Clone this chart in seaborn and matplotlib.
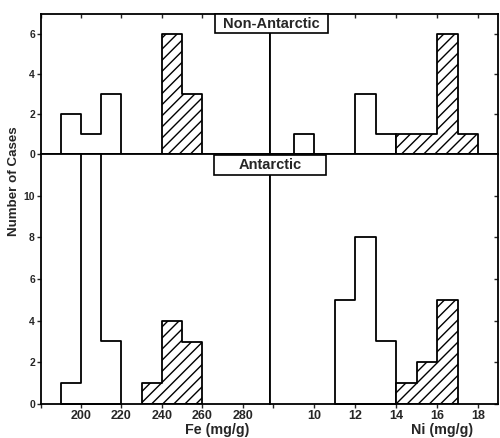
import matplotlib
matplotlib.use('Agg')
import matplotlib.pyplot as plt
import seaborn as sns
from matplotlib.patches import Rectangle

# ---------------- data (bin edges and counts) ----------------
# Non-Antarctic, Fe
fe_top_open_edges = [190, 200, 210, 220]
fe_top_open_counts = [2, 1, 3]
fe_top_hatch_edges = [240, 250, 260]
fe_top_hatch_counts = [6, 3]
# Antarctic, Fe
fe_bot_open_edges = [190, 200, 210, 220]
fe_bot_open_counts = [1, 13, 3]
fe_bot_hatch_edges = [230, 240, 250, 260]
fe_bot_hatch_counts = [1, 4, 3]
# Non-Antarctic, Ni
ni_top_open1_edges = [9, 10]
ni_top_open1_counts = [1]
ni_top_open2_edges = [12, 13, 14]
ni_top_open2_counts = [3, 1]
ni_top_hatch_edges = [14, 15, 16, 17, 18]
ni_top_hatch_counts = [1, 1, 6, 1]
# Antarctic, Ni
ni_bot_open_edges = [11, 12, 13, 14]
ni_bot_open_counts = [5, 8, 3]
ni_bot_hatch_edges = [14, 15, 16, 17]
ni_bot_hatch_counts = [1, 2, 5]

fe_ticks = [180, 200, 220, 240, 260, 280]
fe_ticklabels = ['', '200', '220', '240', '260', '280']
ni_ticks = [8, 10, 12, 14, 16, 18]
ni_ticklabels = ['', '10', '12', '14', '16', '18']
top_yticks = [0, 2, 4, 6]
bot_yticks = [0, 2, 4, 6, 8, 10]

sns.set_style('white')
plt.rcParams['font.family'] = ['Liberation Sans', 'DejaVu Sans']
plt.rcParams['font.weight'] = 'bold'
plt.rcParams['hatch.linewidth'] = 1.0
plt.rcParams['hatch.color'] = 'black'

W, H = 500, 438
fig = plt.figure(figsize=(W / 100, H / 100), dpi=100)
fig.patch.set_facecolor('white')

def fx(px):
    return px / W

def fy(py):
    return 1 - py / H

xl, xm, xr = 40.5, 270, 498
yt, ym, yb = 14, 154, 404

ax_tl = fig.add_axes([fx(xl), fy(ym), fx(xm - xl), (ym - yt) / H])
ax_tr = fig.add_axes([fx(xm), fy(ym), fx(xr - xm), (ym - yt) / H])
ax_bl = fig.add_axes([fx(xl), fy(yb), fx(xm - xl), (yb - ym) / H])
ax_br = fig.add_axes([fx(xm), fy(yb), fx(xr - xm), (yb - ym) / H])

def draw(ax, edges, counts, hatched):
    centers = [(a + b) / 2 for a, b in zip(edges[:-1], edges[1:])]
    sns.histplot(x=centers, weights=counts, bins=edges, ax=ax, element='step',
                 color='white', edgecolor='black', linewidth=1.3,
                 alpha=1, hatch='///' if hatched else None)

draw(ax_tl, fe_top_open_edges, fe_top_open_counts, False)
draw(ax_tl, fe_top_hatch_edges, fe_top_hatch_counts, True)
draw(ax_bl, fe_bot_open_edges, fe_bot_open_counts, False)
draw(ax_bl, fe_bot_hatch_edges, fe_bot_hatch_counts, True)
draw(ax_tr, ni_top_open1_edges, ni_top_open1_counts, False)
draw(ax_tr, ni_top_open2_edges, ni_top_open2_counts, False)
draw(ax_tr, ni_top_hatch_edges, ni_top_hatch_counts, True)
draw(ax_br, ni_bot_open_edges, ni_bot_open_counts, False)
draw(ax_br, ni_bot_hatch_edges, ni_bot_hatch_counts, True)

fe_lim = (180, 180 + (xm - xl) / 2.025)
ni_lim = (8 - 3 / 20.5, 8 - 3 / 20.5 + (xr - xm) / 20.5)

for ax in (ax_tl, ax_bl):
    ax.set_xlim(*fe_lim)
    ax.set_xticks(fe_ticks)
for ax in (ax_tr, ax_br):
    ax.set_xlim(*ni_lim)
    ax.set_xticks(ni_ticks)
for ax in (ax_tl, ax_tr):
    ax.set_ylim(0, 7)
    ax.set_yticks(top_yticks)
for ax in (ax_bl, ax_br):
    ax.set_ylim(0, 12)
    ax.set_yticks(bot_yticks)

for ax in (ax_tl, ax_tr, ax_bl, ax_br):
    ax.set_xlabel('')
    ax.set_ylabel('')
    for s in ax.spines.values():
        s.set_linewidth(1.3)
        s.set_color('black')
        s.set_visible(True)
    ax.set_facecolor('white')

for ax in (ax_tl, ax_tr):
    ax.tick_params(axis='x', which='both', bottom=False, top=True, direction='in',
                   labelbottom=False, labeltop=False, length=3, width=1)
ax_bl.set_xticklabels(fe_ticklabels)
ax_br.set_xticklabels(ni_ticklabels)
for ax in (ax_bl, ax_br):
    ax.tick_params(axis='x', which='both', bottom=True, top=False, direction='out',
                   length=3, width=1, pad=1.5, labelsize=9)
for ax in (ax_tl, ax_bl):
    ax.tick_params(axis='y', left=True, right=False, direction='out', length=3,
                   width=1, pad=1, labelsize=7.5)
for ax in (ax_tr, ax_br):
    ax.tick_params(axis='y', left=False, right=True, direction='in', length=3,
                   width=1, labelleft=False, labelright=False)

def label_box(x0, x1, y0, y1, text):
    fig.patches.append(Rectangle((fx(x0), fy(y1)), fx(x1 - x0), (y1 - y0) / H,
                                 transform=fig.transFigure, facecolor='white',
                                 edgecolor='black', linewidth=1.2, zorder=10))
    fig.text(fx((x0 + x1) / 2), fy((y0 + y1) / 2), text, ha='center', va='center',
             fontsize=10.5, fontweight='bold', zorder=11)

label_box(215, 328, 14, 33, 'Non-Antarctic')
label_box(214, 326, 155, 175, 'Antarctic')

fig.text(fx(14), fy(181), 'Number of Cases', rotation=90, ha='center', va='center',
         fontsize=9.6, fontweight='bold')
fig.text(fx(217), fy(430), 'Fe (mg/g)', ha='center', va='center',
         fontsize=10.3, fontweight='bold')
fig.text(fx(442), fy(430), 'Ni (mg/g)', ha='center', va='center',
         fontsize=10.3, fontweight='bold')

fig.savefig('out.png', dpi=100, facecolor='white')
